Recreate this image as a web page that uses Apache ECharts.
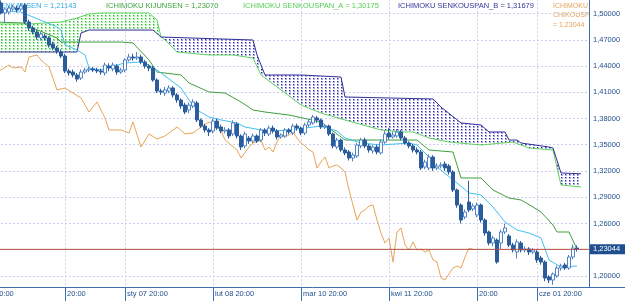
<!DOCTYPE html>
<html lang="pl">
<head>
    <meta charset="UTF-8">
    <title>EURUSD Ichimoku</title>
    <script src="https://cdn.jsdelivr.net/npm/echarts@6.0.0/dist/echarts.min.js"></script>
    <style>
        html,body{margin:0;padding:0;background:#fff;}
        #main{width:625px;height:301px;}
    </style>
</head>
<body>
<div id="main"></div>
<script>
    // daily bars: [open, close, low, high]
    var candles=[
        [1.5108,1.5086,1.5040,1.5140],[1.5086,1.5063,1.5020,1.5120],[1.5120,1.5006,1.4990,1.5150],[1.5006,1.5051,1.4891,1.5070],
        [1.5017,1.5063,1.4990,1.5090],[1.5051,1.5074,1.5030,1.5100],[1.5063,1.5040,1.5010,1.5090],[1.5051,1.5086,1.5030,1.5120],
        [1.5097,1.4903,1.4880,1.5120],[1.4903,1.4834,1.4800,1.4930],[1.4834,1.4788,1.4760,1.4860],[1.4788,1.4731,1.4700,1.4810],
        [1.4720,1.4766,1.4690,1.4790],[1.4743,1.4720,1.4690,1.4770],[1.4720,1.4640,1.4610,1.4740],[1.4651,1.4606,1.4580,1.4680],
        [1.4606,1.4571,1.4540,1.4630],[1.4560,1.4514,1.4490,1.4590],[1.4514,1.4343,1.4320,1.4540],[1.4343,1.4320,1.4290,1.4370],
        [1.4331,1.4297,1.4270,1.4360],[1.4297,1.4251,1.4220,1.4320],[1.4263,1.4331,1.4240,1.4360],[1.4331,1.4354,1.4310,1.4380],
        [1.4354,1.4366,1.4330,1.4390],[1.4366,1.4354,1.4330,1.4390],[1.4354,1.4343,1.4320,1.4380],[1.4343,1.4331,1.4300,1.4370],
        [1.4320,1.4411,1.4290,1.4440],[1.4400,1.4377,1.4340,1.4430],[1.4366,1.4411,1.4340,1.4440],[1.4400,1.4331,1.4300,1.4420],
        [1.4331,1.4354,1.4310,1.4380],[1.4354,1.4469,1.4330,1.4490],[1.4469,1.4503,1.4450,1.4540],[1.4503,1.4491,1.4460,1.4540],
        [1.4491,1.4503,1.4470,1.4560],[1.4503,1.4446,1.4420,1.4530],[1.4446,1.4400,1.4370,1.4470],[1.4400,1.4377,1.4340,1.4420],
        [1.4377,1.4240,1.4220,1.4400],[1.4240,1.4114,1.4090,1.4260],[1.4114,1.4103,1.4070,1.4140],[1.4091,1.4126,1.4060,1.4160],
        [1.4114,1.4149,1.4090,1.4180],[1.4149,1.4069,1.4040,1.4170],[1.4069,1.4011,1.3980,1.4090],[1.4011,1.3943,1.3910,1.4030],
        [1.3954,1.3874,1.3850,1.3980],[1.3897,1.3954,1.3860,1.3980],[1.3943,1.3989,1.3920,1.4020],[1.3977,1.3783,1.3760,1.4000],
        [1.3783,1.3714,1.3690,1.3800],[1.3714,1.3669,1.3640,1.3740],[1.3669,1.3646,1.3600,1.3690],[1.3657,1.3771,1.3630,1.3800],
        [1.3771,1.3691,1.3670,1.3800],[1.3703,1.3657,1.3630,1.3730],[1.3657,1.3669,1.3630,1.3700],[1.3669,1.3600,1.3570,1.3690],
        [1.3623,1.3749,1.3600,1.3780],[1.3737,1.3600,1.3570,1.3760],[1.3600,1.3474,1.3440,1.3620],[1.3486,1.3623,1.3460,1.3650],
        [1.3577,1.3543,1.3510,1.3600],[1.3543,1.3600,1.3520,1.3630],[1.3600,1.3543,1.3520,1.3620],[1.3554,1.3669,1.3530,1.3690],
        [1.3669,1.3634,1.3600,1.3690],[1.3623,1.3691,1.3600,1.3720],[1.3691,1.3657,1.3630,1.3720],[1.3657,1.3589,1.3560,1.3680],
        [1.3589,1.3611,1.3570,1.3630],[1.3600,1.3669,1.3580,1.3690],[1.3669,1.3646,1.3620,1.3690],[1.3634,1.3714,1.3610,1.3740],
        [1.3714,1.3691,1.3660,1.3740],[1.3691,1.3634,1.3610,1.3710],[1.3634,1.3726,1.3610,1.3750],[1.3726,1.3760,1.3700,1.3790],
        [1.3749,1.3817,1.3730,1.3840],[1.3806,1.3783,1.3750,1.3830],[1.3783,1.3703,1.3680,1.3800],[1.3703,1.3714,1.3680,1.3740],
        [1.3714,1.3623,1.3600,1.3730],[1.3623,1.3486,1.3460,1.3640],[1.3474,1.3554,1.3450,1.3580],[1.3554,1.3440,1.3420,1.3570],
        [1.3440,1.3406,1.3380,1.3470],[1.3417,1.3349,1.3320,1.3440],[1.3349,1.3383,1.3310,1.3410],[1.3371,1.3497,1.3350,1.3520],
        [1.3486,1.3554,1.3460,1.3580],[1.3554,1.3486,1.3460,1.3580],[1.3486,1.3440,1.3410,1.3510],[1.3429,1.3474,1.3400,1.3500],
        [1.3474,1.3417,1.3390,1.3500],[1.3406,1.3531,1.3390,1.3560],[1.3531,1.3623,1.3510,1.3660],[1.3634,1.3589,1.3560,1.3690],
        [1.3589,1.3611,1.3570,1.3650],[1.3600,1.3646,1.3580,1.3680],[1.3646,1.3577,1.3550,1.3670],[1.3577,1.3520,1.3500,1.3600],
        [1.3520,1.3486,1.3460,1.3540],[1.3486,1.3440,1.3410,1.3510],[1.3440,1.3417,1.3390,1.3470],[1.3417,1.3234,1.3210,1.3440],
        [1.3246,1.3303,1.3220,1.3330],[1.3234,1.3360,1.3210,1.3390],[1.3360,1.3234,1.3200,1.3380],[1.3234,1.3257,1.3210,1.3290],
        [1.3257,1.3269,1.3230,1.3300],[1.3280,1.3234,1.3200,1.3310],[1.3257,1.3189,1.3160,1.3280],[1.3189,1.2983,1.2960,1.3210],
        [1.2983,1.2811,1.2780,1.3000],[1.2811,1.2640,1.2600,1.2830],[1.2674,1.2731,1.2650,1.2760],[1.2846,1.2754,1.2730,1.3090],
        [1.2766,1.2800,1.2740,1.2830],[1.2697,1.2811,1.2670,1.2840],[1.2811,1.2640,1.2610,1.2830],[1.2640,1.2491,1.2460,1.2660],
        [1.2503,1.2377,1.2350,1.2520],[1.2377,1.2434,1.2340,1.2460],[1.2411,1.2160,1.2140,1.2430],[1.2377,1.2503,1.2300,1.2530],
        [1.2503,1.2549,1.2480,1.2600],[1.2457,1.2354,1.2330,1.2480],[1.2354,1.2297,1.2270,1.2380],[1.2274,1.2390,1.2200,1.2420],
        [1.2377,1.2297,1.2270,1.2400],[1.2297,1.2309,1.2270,1.2340],[1.2309,1.2274,1.2240,1.2330],[1.2274,1.2297,1.2250,1.2320],
        [1.2274,1.2183,1.2150,1.2300],[1.2206,1.2160,1.2130,1.2230],[1.2160,1.1977,1.1940,1.2180],[1.1989,1.1954,1.1920,1.2010],
        [1.1954,1.2023,1.1900,1.2040],[1.2000,1.2091,1.1980,1.2120],[1.2091,1.2114,1.2060,1.2140],[1.2126,1.2091,1.2070,1.2150],
        [1.2091,1.2217,1.2070,1.2240],[1.2217,1.2320,1.2190,1.2360],[1.2320,1.2304,1.2280,1.2350]
    ];
    // ichimoku lines, [bar index, value] at the corners of each line
    var tenkan=[[0,1.5040],[7,1.5017],[10,1.4960],[13,1.4903],[16,1.4846],[17,1.4811],[18,1.4640],[21,1.4583],[23,1.4526],
        [24,1.4377],[27,1.4354],[29,1.4389],[33,1.4434],[37,1.4446],[38,1.4434],[41,1.4354],[43,1.4286],[47,1.4149],[49,1.4011],
        [51,1.3897],[54,1.3817],[57,1.3783],[61,1.3749],[63,1.3703],[67,1.3669],[70,1.3657],[74,1.3669],[78,1.3691],[82,1.3714],
        [86,1.3657],[88,1.3577],[92,1.3520],[97,1.3497],[104,1.3520],[106,1.3497],[109,1.3360],[111,1.3246],[116,1.3063],
        [119,1.2949],[122,1.2926],[125,1.2789],[128,1.2617],[131,1.2526],[134,1.2491],[137,1.2434],[139,1.2183],[142,1.2103],[146,1.2114]];
    var kijun=[[0,1.4903],[8,1.4891],[10,1.4834],[13,1.4777],[16,1.4720],[17,1.4674],[32,1.4674],[35,1.4663],[39,1.4469],
        [41,1.4331],[47,1.4297],[49,1.4206],[54,1.4103],[58,1.4091],[62,1.3989],[65,1.3897],[68,1.3874],[74,1.3840],[82,1.3760],
        [88,1.3554],[106,1.3554],[109,1.3440],[115,1.3417],[117,1.3120],[122,1.3120],[125,1.2983],[129,1.2891],[132,1.2869],
        [135,1.2789],[137,1.2731],[140,1.2583],[141,1.2503],[144,1.2503],[146,1.2307]];
    var spanA=[[0,1.4880],[9,1.4880],[17,1.4903],[21,1.4949],[24,1.4994],[27,1.5006],[39,1.5006],[41,1.4926],[42,1.4731],
        [43,1.4697],[46,1.4560],[54,1.4526],[60,1.4526],[65,1.4491],[67,1.4297],[72,1.4126],[77,1.3954],[82,1.3863],[88,1.3783],
        [97,1.3669],[102,1.3646],[105,1.3646],[109,1.3577],[114,1.3531],[122,1.3497],[130,1.3531],[132,1.3497],[134,1.3463],
        [140,1.3440],[142,1.3040],[147,1.30175]];
    var spanB=[[0,1.4560],[21,1.4560],[22,1.4777],[24,1.4811],[40,1.4811],[42,1.4731],[65,1.4697],[66,1.4526],[68,1.4297],
        [77,1.4297],[87,1.4274],[88,1.4046],[110,1.4023],[112,1.3931],[117,1.3749],[122,1.3726],[124,1.3646],[128,1.3646],
        [129,1.3554],[131,1.3554],[132,1.3520],[139,1.3474],[140,1.3463],[142,1.3177],[147,1.31679]];
    var twist=42; // bar where span A and span B cross
    var chikou=[[0,1.4343],[2,1.4354],[4,1.4411],[5,1.4377],[7,1.4389],[8,1.4331],[9,1.4503],[11,1.4526],[12,1.4469],[14,1.4389],
        [16,1.4126],[18,1.4149],[22,1.4034],[24,1.3874],[26,1.3989],[28,1.3806],[29,1.3669],[32,1.3669],[34,1.3634],[35,1.3760],
        [37,1.3474],[39,1.3623],[41,1.3566],[43,1.3600],[46,1.3703],[48,1.3623],[50,1.3634],[52,1.3703],[54,1.3760],[57,1.3669],
        [58,1.3554],[61,1.3440],[62,1.3349],[64,1.3474],[65,1.3520],[67,1.3554],[68,1.3440],[69,1.3474],[70,1.3417],[71,1.3531],
        [72,1.3623],[73,1.3589],[74,1.3611],[75,1.3646],[76,1.3577],[77,1.3520],[78,1.3486],[79,1.3440],[80,1.3417],[81,1.3234],
        [82,1.3303],[83,1.3360],[84,1.3234],[85,1.3257],[86,1.3269],[87,1.3234],[88,1.3189],[89,1.2983],[90,1.2811],[91,1.2640],
        [92,1.2731],[93,1.2754],[94,1.2800],[95,1.2811],[96,1.2640],[97,1.2491],[98,1.2377],[99,1.2434],[100,1.2160],[101,1.2503],
        [102,1.2549],[103,1.2354],[104,1.2297],[105,1.2389],[106,1.2297],[107,1.2309],[108,1.2274],[109,1.2297],[110,1.2183],
        [111,1.2160],[112,1.1977],[113,1.1954],[114,1.2023],[115,1.2091],[116,1.2114],[117,1.2091],[118,1.2217],[119,1.2320],[120,1.2304]];
    var lastPrice=1.23044;
    var barSlots=150;
    // time axis marks
    var tickIndex=[0,18,33,55,77,99,121,136];
    var tickText=['20:00','20:00','sty 07 20:00','lut 08 20:00','mar 10 20:00','kwi 11 20:00','20:00','cze 01 20:00'];
    // indicator captions
    var captions=[
        {text:'ICHIMOKU TENKANSEN = 1,21143',x:-44,color:'#33aadf'},
        {text:'ICHIMOKU KIJUNSEN = 1,23070',x:106,color:'#3ea53e'},
        {text:'ICHIMOKU SENKOUSPAN_A = 1,30175',x:243,color:'#55cc55'},
        {text:'ICHIMOKU SENKOUSPAN_B = 1,31679',x:398,color:'#343499'},
        {text:'ICHIMOKU\nCHIKOUSPAN\n= 1,23044',x:553,color:'#e3a45c',size:7,width:38}
    ];

    var FONT='"Liberation Sans", Arial, sans-serif';
    var AXIS_BLUE='#3a6fb0';
    var GRID_LINE={color:'#c9cdee',type:[2,2],width:1};

    var slots=[];
    for(var i=0;i<barSlots;i++){slots.push(String(i));}
    var isTick=function(idx){return tickIndex.indexOf(idx)>=0;};
    var priceLine=[[0,lastPrice],[barSlots-1,lastPrice]];

    // dotted hatch, one dotted column per bar like the cloud histogram
    function dots(color,soft){
        var c=document.createElement('canvas');
        c.width=4;c.height=3;
        var g=c.getContext('2d');
        g.fillStyle=soft;
        g.fillRect(1,0,2,2);
        g.fillStyle=color;
        g.fillRect(1,0,1,1);
        return {image:c,repeat:'repeat'};
    }
    var greenDots=dots('#1fc41f','rgba(60,210,60,0.45)');
    var blueDots=dots('#2a2aa6','rgba(70,70,190,0.45)');

    var chart=echarts.init(document.getElementById('main'),null,{renderer:'canvas'});

    var graphics=[];
    captions.forEach(function(c){
        var st={text:c.text,fill:c.color,fontSize:c.size||7.5,fontFamily:FONT,lineHeight:9.5};
        if(c.width){st.width=c.width;st.overflow='truncate';st.ellipsis='';}
        graphics.push({type:'text',x:c.x,y:1,z:0,silent:true,style:st});
    });
    graphics.push({type:'line',z:100,silent:true,shape:{x1:589.5,y1:0,x2:589.5,y2:287},style:{stroke:AXIS_BLUE,lineWidth:1}});
    graphics.push({type:'line',z:100,silent:true,shape:{x1:0,y1:287.5,x2:625,y2:287.5},style:{stroke:AXIS_BLUE,lineWidth:1}});

    var option={
        animation:false,
        backgroundColor:'#fff',
        grid:{left:-7,right:36,top:-12.75,bottom:-1.25,outerBoundsMode:'none'},
        graphic:{elements:graphics},
        xAxis:{
            type:'category',
            data:slots,
            boundaryGap:false,
            offset:-15.25,
            axisLine:{show:false,onZero:false},
            axisTick:{show:true,interval:function(idx){return isTick(idx);},length:14,lineStyle:{color:AXIS_BLUE}},
            axisLabel:{interval:function(idx){return isTick(idx);},align:'left',margin:3,padding:[0,0,0,2],
                color:'#22508f',fontSize:7.5,fontFamily:FONT,
                formatter:function(v,idx){var k=tickIndex.indexOf(idx);return k>=0?tickText[k]:'';}},
            splitLine:{show:true,interval:function(idx){return isTick(idx);},lineStyle:GRID_LINE}
        },
        yAxis:{
            type:'value',
            position:'right',
            min:1.17,max:1.53,interval:0.03,
            axisLine:{show:false},
            axisTick:{show:false},
            axisLabel:{margin:4,color:'#22508f',fontSize:7.5,fontFamily:FONT,showMinLabel:false,showMaxLabel:false,
                formatter:function(v){
                    if(v<1.19||v>1.51||Math.abs(v-1.23)<1e-6){return '';}
                    return v.toFixed(5).replace('.',',');
                }},
            splitLine:{show:true,lineStyle:GRID_LINE}
        },
        series:[
            {
                type:'custom',
                silent:true,
                z:1,
                data:[[0,1.3]],
                renderItem:function(params,api){
                    var pt=function(p){return api.coord([p[0],p[1]]);};
                    var aL=spanA.filter(function(p){return p[0]<=twist;}).map(pt);
                    var bL=spanB.filter(function(p){return p[0]<=twist;}).map(pt).reverse();
                    var bR=spanB.filter(function(p){return p[0]>=twist;}).map(pt);
                    var aR=spanA.filter(function(p){return p[0]>=twist;}).map(pt).reverse();
                    return {type:'group',children:[
                        {type:'polygon',shape:{points:aL.concat(bL)},style:{fill:greenDots}},
                        {type:'polygon',shape:{points:bR.concat(aR)},style:{fill:blueDots}}
                    ]};
                }
            },
            {name:'senkou A',type:'line',data:spanA,symbol:'none',z:2,lineStyle:{color:'#5fd45f',width:1}},
            {name:'senkou B',type:'line',data:spanB,symbol:'none',z:2,lineStyle:{color:'#30309a',width:1}},
            {name:'chikou',type:'line',data:chikou,symbol:'none',z:2,lineStyle:{color:'#e8a458',width:1}},
            {name:'kijun',type:'line',data:kijun,symbol:'none',z:2,lineStyle:{color:'#3f9f3f',width:1}},
            {name:'tenkan',type:'line',data:tenkan,symbol:'none',z:2,lineStyle:{color:'#40c0f2',width:1}},
            {
                name:'EURUSD',
                type:'candlestick',
                data:candles,
                barWidth:3,
                z:3,
                itemStyle:{color:'#ffffff',color0:'#2b5d9c',borderColor:'#4f84c6',borderColor0:'#2b5d9c',borderWidth:1}
            },
            {
                name:'last',
                type:'line',
                data:priceLine,
                symbol:'none',
                z:4,
                silent:true,
                lineStyle:{color:'#b85040',width:1},
                endLabel:{show:true,distance:0,formatter:'1,23044',color:'#ffffff',backgroundColor:'#1f4f8f',
                    padding:[1,5,1,4],fontSize:7.5,fontFamily:FONT}
            }
        ]
    };
    chart.setOption(option);
</script>
</body>
</html>
